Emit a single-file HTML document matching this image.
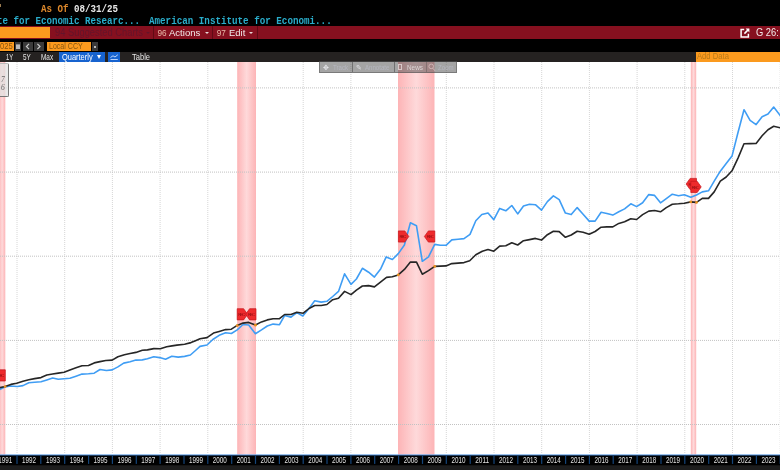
<!DOCTYPE html>
<html><head><meta charset="utf-8">
<style>
html,body{margin:0;padding:0;background:#000;}
body{width:780px;height:470px;overflow:hidden;position:relative;font-family:"Liberation Sans",sans-serif;}
.abs{position:absolute;white-space:nowrap;}
.t{position:absolute;white-space:nowrap;transform-origin:0 50%;}
.mono{font-family:"Liberation Mono",monospace;font-weight:bold;}
#wrap{position:absolute;left:-20px;top:-20px;width:820px;height:510px;background:#000;filter:blur(0.45px);}
#in{position:absolute;left:20px;top:20px;width:780px;height:470px;}
</style></head><body><div id="wrap"><div id="in">
<!-- row1 -->
<div class="t mono" style="left:41px;top:1.8px;font-size:11.8px;line-height:14px;color:#e08a2c;transform:scaleX(0.777);">As Of <span style="color:#e6e6e6">08/31/25</span></div>
<div class="abs" style="left:0;top:4px;width:1px;height:3px;background:#9a7a50;"></div>
<!-- row2 -->
<div class="t mono" style="left:-3px;top:14.3px;font-size:11.8px;line-height:14px;color:#2aaecc;white-space:pre;transform:scaleX(0.777);">te for Economic Researc...</div>
<div class="t mono" style="left:149px;top:14.3px;font-size:11.8px;line-height:14px;color:#2aaecc;white-space:pre;transform:scaleX(0.782);">American Institute for Economi...</div>
<!-- row3 red bar -->
<div class="abs" style="left:0;top:26px;width:780px;height:13px;background:#86101f;"></div>
<div class="abs" style="left:0;top:27.4px;width:50px;height:10.9px;background:#fb9a1e;"></div>
<div class="abs" style="left:50px;top:26px;width:103px;height:13px;background:#86101f;"></div>
<div class="abs" style="left:153px;top:26px;width:1px;height:13px;background:#600a14;"></div>
<div class="t" style="left:54.6px;top:25.5px;font-size:10px;line-height:13px;color:#64142a;transform:scaleX(0.935);">94 Suggested Charts</div>
<div class="abs" style="left:146px;top:31.5px;width:0;height:0;border-left:2px solid transparent;border-right:2px solid transparent;border-top:2.5px solid #64142a;"></div>
<div class="t" style="left:157.5px;top:26.5px;font-size:8.2px;line-height:13px;color:#e9b9a8;">96</div>
<div class="t" style="left:169.3px;top:26px;font-size:9.9px;line-height:13px;color:#f3ebeb;transform:scaleX(0.965);">Actions</div>
<div class="abs" style="left:204.7px;top:31.5px;width:0;height:0;border-left:2px solid transparent;border-right:2px solid transparent;border-top:2.5px solid #e8d8d8;"></div>
<div class="abs" style="left:212.3px;top:26px;width:1px;height:13px;background:#600a14;"></div>
<div class="t" style="left:216.7px;top:26.5px;font-size:8.2px;line-height:13px;color:#e9b9a8;">97</div>
<div class="t" style="left:228.5px;top:26px;font-size:9.9px;line-height:13px;color:#f3ebeb;transform:scaleX(0.955);">Edit</div>
<div class="abs" style="left:249.2px;top:31.5px;width:0;height:0;border-left:2px solid transparent;border-right:2px solid transparent;border-top:2.5px solid #e8d8d8;"></div>
<div class="abs" style="left:257px;top:26px;width:1px;height:13px;background:#600a14;"></div>
<div class="t" style="left:756.3px;top:26px;font-size:10.3px;line-height:13px;color:#f3ebeb;transform:scaleX(0.908);">G 26:</div>
<svg class="abs" style="left:739.5px;top:27.5px" width="10" height="10" viewBox="0 0 10 10"><path d="M4.2 1.6H1.1v7.3h7.3V5.8" fill="none" stroke="#fff" stroke-width="1.5"/><path d="M4.4 5.6L8.6 1.4" fill="none" stroke="#fff" stroke-width="1.5"/><path d="M5.6 0.6H9.4V4.4z" fill="#fff"/></svg>
<!-- row4 -->
<div class="abs" style="left:0;top:42px;width:13.7px;height:9px;background:#fb9a1e;"></div>
<div class="t" style="left:-0.5px;top:41px;font-size:8.5px;line-height:11px;color:#87560f;transform:scaleX(0.9);">025</div>
<div class="abs" style="left:14.5px;top:42px;width:6.5px;height:9px;background:#3a3a3a;"></div>
<div class="abs" style="left:15.5px;top:44.5px;width:4.5px;height:4px;background:#bbb;"></div>
<div class="abs" style="left:15.5px;top:43.5px;width:4.5px;height:1.2px;background:#888;"></div>
<div class="abs" style="left:23.3px;top:42px;width:9.4px;height:9px;background:#3a3a3a;"></div>
<div class="abs" style="left:34.2px;top:42px;width:9.4px;height:9px;background:#3a3a3a;"></div>
<svg class="abs" style="left:23.3px;top:42px" width="21" height="9" viewBox="0 0 21 9"><path d="M6 1.8L3.4 4.5L6 7.2" fill="none" stroke="#c8c8c8" stroke-width="1.2"/><path d="M14.4 1.8L17 4.5L14.4 7.2" fill="none" stroke="#c8c8c8" stroke-width="1.2"/></svg>
<div class="abs" style="left:47.2px;top:42px;width:44px;height:9px;background:#fb9a1e;"></div>
<div class="t" style="left:49px;top:41px;font-size:8.5px;line-height:11px;color:#87560f;transform:scaleX(0.83);">Local CCY</div>
<div class="abs" style="left:92px;top:42px;width:6.3px;height:9px;background:#3a3a3a;"></div>
<div class="abs" style="left:94px;top:46px;width:2px;height:2px;background:#bbb;"></div>
<!-- row5 -->
<div class="abs" style="left:0;top:51.6px;width:780px;height:10.4px;background:#252221;"></div>
<div class="t" style="left:5.6px;top:51.5px;font-size:9.2px;line-height:11px;color:#e6e6e6;transform:scaleX(0.64);">1Y</div>
<div class="t" style="left:22.8px;top:51.5px;font-size:9.2px;line-height:11px;color:#e6e6e6;transform:scaleX(0.69);">5Y</div>
<div class="t" style="left:41px;top:51.5px;font-size:9.2px;line-height:11px;color:#e6e6e6;transform:scaleX(0.70);">Max</div>
<div class="abs" style="left:59.2px;top:51.6px;width:45.8px;height:10.2px;background:#1763cf;"></div>
<div class="t" style="left:62px;top:51.5px;font-size:9.2px;line-height:11px;color:#fff;transform:scaleX(0.81);">Quarterly</div>
<div class="abs" style="left:96.5px;top:54.5px;width:0;height:0;border-left:2.6px solid transparent;border-right:2.6px solid transparent;border-top:4.5px solid #fff;"></div>
<div class="abs" style="left:108px;top:51.6px;width:12.3px;height:10.2px;background:#1763cf;"></div>
<svg class="abs" style="left:108px;top:51.6px" width="12.3" height="9.9" viewBox="0 0 12.3 9.9"><path d="M2.5 5.5L5 3.8L7 5L9.8 2.8" fill="none" stroke="#cfe0ff" stroke-width="0.9"/><path d="M2.5 7.5H9.8" stroke="#cfe0ff" stroke-width="0.9"/></svg>
<div class="t" style="left:132px;top:51.5px;font-size:9.2px;line-height:11px;color:#e6e6e6;transform:scaleX(0.82);">Table</div>
<div class="abs" style="left:696px;top:51.6px;width:84px;height:10px;background:#fb9a1e;"></div>
<div class="t" style="left:697.3px;top:51px;font-size:8.8px;line-height:11px;color:#b97a18;transform:scaleX(0.87);">Add Data</div>
<svg class="abs" style="left:0;top:62px" width="780" height="408" viewBox="0 62 780 408">
<defs><linearGradient id="pk" x1="0" x2="1" y1="0" y2="0"><stop offset="0" stop-color="#fdb4b6"/><stop offset="0.5" stop-color="#fed9da"/><stop offset="1" stop-color="#fdb4b6"/></linearGradient></defs>
<rect x="0" y="62" width="780" height="393.3" fill="#fff"/>
<g stroke="#d6d6d6" stroke-width="1" stroke-dasharray="1,1"><line x1="17.0" y1="62" x2="17.0" y2="454"/><line x1="64.7" y1="62" x2="64.7" y2="454"/><line x1="112.4" y1="62" x2="112.4" y2="454"/><line x1="160.1" y1="62" x2="160.1" y2="454"/><line x1="207.8" y1="62" x2="207.8" y2="454"/><line x1="255.5" y1="62" x2="255.5" y2="454"/><line x1="303.2" y1="62" x2="303.2" y2="454"/><line x1="350.9" y1="62" x2="350.9" y2="454"/><line x1="398.6" y1="62" x2="398.6" y2="454"/><line x1="446.3" y1="62" x2="446.3" y2="454"/><line x1="494.0" y1="62" x2="494.0" y2="454"/><line x1="541.7" y1="62" x2="541.7" y2="454"/><line x1="589.4" y1="62" x2="589.4" y2="454"/><line x1="637.1" y1="62" x2="637.1" y2="454"/><line x1="684.8" y1="62" x2="684.8" y2="454"/><line x1="732.5" y1="62" x2="732.5" y2="454"/><line x1="780.2" y1="62" x2="780.2" y2="454"/></g>
<rect x="-1" y="62" width="6.3" height="392.6" fill="url(#pk)"/><rect x="237.2" y="62" width="18.8" height="392.6" fill="url(#pk)"/><rect x="398" y="62" width="36.5" height="392.6" fill="url(#pk)"/><rect x="690.8" y="62" width="5.4" height="392.6" fill="url(#pk)"/>
<g stroke="#c2c2c2" stroke-width="1" stroke-dasharray="1,1"><line x1="0" y1="87.9" x2="780" y2="87.9"/><line x1="0" y1="172.1" x2="780" y2="172.1"/><line x1="0" y1="256.2" x2="780" y2="256.2"/><line x1="0" y1="340.4" x2="780" y2="340.4"/><line x1="0" y1="424.5" x2="780" y2="424.5"/></g>
<polyline points="-1.0,389.8 5.1,386.9 10.3,386.0 17.3,386.5 23.0,385.6 28.8,382.7 34.6,382.2 41.0,381.8 46.8,379.9 52.6,378.0 58.3,379.2 64.1,378.8 69.9,378.3 76.0,376.2 82.0,374.1 88.5,373.7 94.2,373.2 100.0,369.5 106.4,370.5 112.2,369.9 117.9,366.9 123.7,363.1 130.1,361.8 135.9,360.1 142.3,359.9 147.4,358.8 153.8,356.7 159.6,357.6 165.6,359.2 171.8,356.3 178.2,357.1 184.6,356.4 190.4,355.0 195.5,350.5 200.0,346.4 207.0,345.0 212.8,339.5 219.2,335.3 225.6,332.7 231.4,333.5 237.2,329.9 243.0,324.5 248.7,325.0 255.4,333.7 261.5,329.9 267.3,326.0 273.1,324.1 279.5,324.7 284.6,315.5 291.0,317.1 296.8,312.6 302.8,316.0 309.0,308.5 314.7,300.8 321.2,302.1 326.9,301.3 332.7,296.5 338.5,291.4 344.6,273.8 351.0,284.4 356.4,279.0 362.4,268.3 368.6,272.2 374.4,277.1 380.8,268.7 386.2,256.9 392.4,259.5 398.3,253.6 404.4,245.0 410.4,222.8 416.5,225.8 422.3,261.3 428.5,256.9 434.7,244.4 440.3,245.3 446.0,245.3 451.8,239.9 458.0,239.2 464.0,238.6 470.0,234.4 475.8,220.7 481.8,214.5 488.0,213.0 493.8,219.6 499.7,208.4 505.8,210.8 511.8,205.5 517.7,213.9 523.5,206.1 529.5,204.2 535.4,204.7 541.5,210.1 547.4,201.6 553.4,195.8 559.2,199.6 565.4,213.1 571.2,214.6 577.2,207.6 583.1,214.3 589.2,221.1 595.1,221.1 601.1,212.3 606.9,213.5 612.8,215.1 618.8,211.8 624.6,208.9 630.8,203.8 636.6,206.6 642.6,202.8 648.8,194.6 654.6,195.4 660.5,202.8 666.3,198.6 672.3,194.2 678.5,195.8 684.3,194.7 690.8,197.3 696.5,195.0 702.3,191.9 708.5,190.8 714.2,181.2 720.3,171.2 726.2,163.5 732.0,156.1 738.0,132.5 744.0,109.7 750.1,120.3 756.1,124.6 762.1,116.7 768.0,114.1 773.7,107.1 781.0,116.5" fill="none" stroke="#3f9df4" stroke-width="1.6" stroke-linejoin="round"/>
<polyline points="-1.0,387.8 5.1,386.5 10.9,384.4 16.7,383.3 23.0,381.2 28.8,379.8 34.6,378.6 41.0,377.6 46.8,375.0 52.6,374.0 58.3,373.1 64.1,372.2 69.9,369.9 76.0,367.8 82.0,365.8 88.5,365.5 94.2,362.9 100.0,361.6 105.8,360.5 112.2,360.1 117.9,356.7 124.4,354.7 130.1,353.5 135.9,352.4 142.3,350.3 147.4,349.9 153.8,348.6 160.3,348.7 166.7,346.8 172.0,345.9 176.9,345.1 184.6,344.2 191.0,342.6 195.5,340.7 200.0,338.8 207.0,337.6 213.5,333.1 219.2,331.4 225.6,329.6 231.4,329.2 237.2,325.4 243.0,323.1 248.7,322.4 255.4,325.0 261.5,321.9 267.3,319.9 273.1,318.7 279.5,318.6 284.6,314.5 291.0,314.5 296.8,312.3 303.2,313.2 309.0,308.5 314.7,305.5 321.2,305.5 326.9,304.5 332.7,299.7 338.5,298.2 344.6,291.4 351.0,294.6 356.4,290.1 362.4,286.0 368.6,285.6 374.4,286.9 380.8,281.8 386.5,277.4 392.3,276.8 398.3,274.9 404.4,269.4 410.4,262.1 416.5,262.1 422.3,274.2 428.5,270.6 434.7,266.4 440.3,266.1 446.0,265.9 451.8,263.6 458.0,263.1 464.0,262.6 469.7,260.8 475.8,254.8 482.3,251.2 488.0,249.6 493.8,251.2 499.7,246.1 505.8,245.8 511.8,242.7 517.7,245.0 523.5,240.7 529.5,239.6 535.4,238.4 541.5,240.1 547.4,234.7 553.4,231.2 559.2,231.6 565.4,237.3 571.2,235.0 577.2,231.2 583.1,232.3 589.2,234.3 595.1,231.5 601.1,227.2 606.9,226.9 612.8,226.9 618.8,223.4 624.6,221.8 630.8,218.8 636.6,219.5 642.6,214.6 648.8,211.1 654.6,210.5 660.5,211.8 666.3,207.6 672.3,204.2 678.5,203.8 684.3,203.2 690.8,201.9 696.5,202.4 702.3,198.4 708.5,198.4 714.2,191.9 720.3,181.2 726.2,177.0 732.0,170.8 738.0,158.1 744.0,143.7 750.0,143.6 756.1,143.5 762.1,135.8 768.0,129.7 773.7,126.3 781.0,128.0" fill="none" stroke="#262626" stroke-width="1.6" stroke-linejoin="round"/>
<path d="M5.3 369.8H-1.1L-5.1 375.4L-1.1 381.0H5.3Z" fill="#ee2a2c" stroke="#c4161c" stroke-width="0.7"/><text x="-2.7" y="377.0" font-size="4.2" fill="#8a0c10" font-family="Liberation Sans, sans-serif" textLength="7">REC</text><path d="M237.2 308.7H243.6L247.6 314.3L243.6 319.9H237.2Z" fill="#ee2a2c" stroke="#c4161c" stroke-width="0.7"/><text x="238.2" y="315.9" font-size="4.2" fill="#8a0c10" font-family="Liberation Sans, sans-serif" textLength="7">REC</text><path d="M256.0 308.7H249.6L245.6 314.3L249.6 319.9H256.0Z" fill="#ee2a2c" stroke="#c4161c" stroke-width="0.7"/><text x="248.0" y="315.9" font-size="4.2" fill="#8a0c10" font-family="Liberation Sans, sans-serif" textLength="7">REC</text><path d="M398.4 230.9H404.8L408.8 236.5L404.8 242.1H398.4Z" fill="#ee2a2c" stroke="#c4161c" stroke-width="0.7"/><text x="399.4" y="238.1" font-size="4.2" fill="#8a0c10" font-family="Liberation Sans, sans-serif" textLength="7">REC</text><path d="M434.8 230.9H428.4L424.4 236.5L428.4 242.1H434.8Z" fill="#ee2a2c" stroke="#c4161c" stroke-width="0.7"/><text x="426.8" y="238.1" font-size="4.2" fill="#8a0c10" font-family="Liberation Sans, sans-serif" textLength="7">REC</text><path d="M696.5 178.4H690.1L686.1 184.0L690.1 189.6H696.5Z" fill="#ee2a2c" stroke="#c4161c" stroke-width="0.7"/><text x="688.5" y="185.6" font-size="4.2" fill="#8a0c10" font-family="Liberation Sans, sans-serif" textLength="7">REC</text><path d="M690.8 181.3H697.2L701.2 186.9L697.2 192.5H690.8Z" fill="#ee2a2c" stroke="#c4161c" stroke-width="0.7"/><text x="691.8" y="188.5" font-size="4.2" fill="#8a0c10" font-family="Liberation Sans, sans-serif" textLength="7">REC</text><circle cx="5.1" cy="386.6" r="1.4" fill="#e8901c"/><circle cx="237.2" cy="325.6" r="1.4" fill="#e8901c"/><circle cx="255.4" cy="325.2" r="1.4" fill="#e8901c"/><circle cx="398.3" cy="274.9" r="1.4" fill="#e8901c"/><circle cx="434.7" cy="266.4" r="1.4" fill="#e8901c"/><circle cx="690.8" cy="201.9" r="1.4" fill="#e8901c"/><circle cx="696.5" cy="202.4" r="1.4" fill="#e8901c"/>
<rect x="0" y="455.2" width="780" height="11" fill="#000"/>
<rect x="0" y="465.3" width="780" height="6" fill="#1d1d1d"/>
<rect x="0" y="454.5" width="780" height="0.9" fill="#3a86dc"/>
<rect x="16.4" y="455.3" width="1.2" height="8.6" fill="#15457a"/><rect x="40.2" y="455.3" width="1.2" height="8.6" fill="#15457a"/><rect x="64.1" y="455.3" width="1.2" height="8.6" fill="#15457a"/><rect x="88.0" y="455.3" width="1.2" height="8.6" fill="#15457a"/><rect x="111.8" y="455.3" width="1.2" height="8.6" fill="#15457a"/><rect x="135.7" y="455.3" width="1.2" height="8.6" fill="#15457a"/><rect x="159.5" y="455.3" width="1.2" height="8.6" fill="#15457a"/><rect x="183.4" y="455.3" width="1.2" height="8.6" fill="#15457a"/><rect x="207.2" y="455.3" width="1.2" height="8.6" fill="#15457a"/><rect x="231.1" y="455.3" width="1.2" height="8.6" fill="#15457a"/><rect x="254.9" y="455.3" width="1.2" height="8.6" fill="#15457a"/><rect x="278.8" y="455.3" width="1.2" height="8.6" fill="#15457a"/><rect x="302.6" y="455.3" width="1.2" height="8.6" fill="#15457a"/><rect x="326.4" y="455.3" width="1.2" height="8.6" fill="#15457a"/><rect x="350.3" y="455.3" width="1.2" height="8.6" fill="#15457a"/><rect x="374.1" y="455.3" width="1.2" height="8.6" fill="#15457a"/><rect x="398.0" y="455.3" width="1.2" height="8.6" fill="#15457a"/><rect x="421.9" y="455.3" width="1.2" height="8.6" fill="#15457a"/><rect x="445.7" y="455.3" width="1.2" height="8.6" fill="#15457a"/><rect x="469.6" y="455.3" width="1.2" height="8.6" fill="#15457a"/><rect x="493.4" y="455.3" width="1.2" height="8.6" fill="#15457a"/><rect x="517.2" y="455.3" width="1.2" height="8.6" fill="#15457a"/><rect x="541.1" y="455.3" width="1.2" height="8.6" fill="#15457a"/><rect x="565.0" y="455.3" width="1.2" height="8.6" fill="#15457a"/><rect x="588.8" y="455.3" width="1.2" height="8.6" fill="#15457a"/><rect x="612.6" y="455.3" width="1.2" height="8.6" fill="#15457a"/><rect x="636.5" y="455.3" width="1.2" height="8.6" fill="#15457a"/><rect x="660.4" y="455.3" width="1.2" height="8.6" fill="#15457a"/><rect x="684.2" y="455.3" width="1.2" height="8.6" fill="#15457a"/><rect x="708.1" y="455.3" width="1.2" height="8.6" fill="#15457a"/><rect x="731.9" y="455.3" width="1.2" height="8.6" fill="#15457a"/><rect x="755.8" y="455.3" width="1.2" height="8.6" fill="#15457a"/><rect x="779.6" y="455.3" width="1.2" height="8.6" fill="#15457a"/>
<g font-family="Liberation Sans, sans-serif" font-size="8.3" fill="#e0e0e0"><text x="5.2" y="463.1" text-anchor="middle" textLength="14" lengthAdjust="spacingAndGlyphs">1991</text><text x="29.1" y="463.1" text-anchor="middle" textLength="14" lengthAdjust="spacingAndGlyphs">1992</text><text x="52.9" y="463.1" text-anchor="middle" textLength="14" lengthAdjust="spacingAndGlyphs">1993</text><text x="76.8" y="463.1" text-anchor="middle" textLength="14" lengthAdjust="spacingAndGlyphs">1994</text><text x="100.6" y="463.1" text-anchor="middle" textLength="14" lengthAdjust="spacingAndGlyphs">1995</text><text x="124.5" y="463.1" text-anchor="middle" textLength="14" lengthAdjust="spacingAndGlyphs">1996</text><text x="148.3" y="463.1" text-anchor="middle" textLength="14" lengthAdjust="spacingAndGlyphs">1997</text><text x="172.2" y="463.1" text-anchor="middle" textLength="14" lengthAdjust="spacingAndGlyphs">1998</text><text x="196.0" y="463.1" text-anchor="middle" textLength="14" lengthAdjust="spacingAndGlyphs">1999</text><text x="219.8" y="463.1" text-anchor="middle" textLength="14" lengthAdjust="spacingAndGlyphs">2000</text><text x="243.7" y="463.1" text-anchor="middle" textLength="14" lengthAdjust="spacingAndGlyphs">2001</text><text x="267.6" y="463.1" text-anchor="middle" textLength="14" lengthAdjust="spacingAndGlyphs">2002</text><text x="291.4" y="463.1" text-anchor="middle" textLength="14" lengthAdjust="spacingAndGlyphs">2003</text><text x="315.2" y="463.1" text-anchor="middle" textLength="14" lengthAdjust="spacingAndGlyphs">2004</text><text x="339.1" y="463.1" text-anchor="middle" textLength="14" lengthAdjust="spacingAndGlyphs">2005</text><text x="362.9" y="463.1" text-anchor="middle" textLength="14" lengthAdjust="spacingAndGlyphs">2006</text><text x="386.8" y="463.1" text-anchor="middle" textLength="14" lengthAdjust="spacingAndGlyphs">2007</text><text x="410.7" y="463.1" text-anchor="middle" textLength="14" lengthAdjust="spacingAndGlyphs">2008</text><text x="434.5" y="463.1" text-anchor="middle" textLength="14" lengthAdjust="spacingAndGlyphs">2009</text><text x="458.4" y="463.1" text-anchor="middle" textLength="14" lengthAdjust="spacingAndGlyphs">2010</text><text x="482.2" y="463.1" text-anchor="middle" textLength="14" lengthAdjust="spacingAndGlyphs">2011</text><text x="506.1" y="463.1" text-anchor="middle" textLength="14" lengthAdjust="spacingAndGlyphs">2012</text><text x="529.9" y="463.1" text-anchor="middle" textLength="14" lengthAdjust="spacingAndGlyphs">2013</text><text x="553.8" y="463.1" text-anchor="middle" textLength="14" lengthAdjust="spacingAndGlyphs">2014</text><text x="577.6" y="463.1" text-anchor="middle" textLength="14" lengthAdjust="spacingAndGlyphs">2015</text><text x="601.5" y="463.1" text-anchor="middle" textLength="14" lengthAdjust="spacingAndGlyphs">2016</text><text x="625.3" y="463.1" text-anchor="middle" textLength="14" lengthAdjust="spacingAndGlyphs">2017</text><text x="649.2" y="463.1" text-anchor="middle" textLength="14" lengthAdjust="spacingAndGlyphs">2018</text><text x="673.0" y="463.1" text-anchor="middle" textLength="14" lengthAdjust="spacingAndGlyphs">2019</text><text x="696.9" y="463.1" text-anchor="middle" textLength="14" lengthAdjust="spacingAndGlyphs">2020</text><text x="720.7" y="463.1" text-anchor="middle" textLength="14" lengthAdjust="spacingAndGlyphs">2021</text><text x="744.6" y="463.1" text-anchor="middle" textLength="14" lengthAdjust="spacingAndGlyphs">2022</text><text x="768.4" y="463.1" text-anchor="middle" textLength="14" lengthAdjust="spacingAndGlyphs">2023</text></g>
</svg>
<!-- legend box -->
<div class="abs" style="left:-1px;top:63.4px;width:8.5px;height:32px;background:rgba(225,225,225,0.75);border-right:1px solid #777;border-bottom:1px solid #777;border-top:1px solid #bbb;border-radius:0 2px 2px 0;"></div>
<div class="abs" style="left:1px;top:76px;font-family:'Liberation Serif',serif;font-style:italic;font-size:7.5px;line-height:8px;color:#686868;">7</div>
<div class="abs" style="left:1px;top:84px;font-family:'Liberation Serif',serif;font-style:italic;font-size:7.5px;line-height:8px;color:#686868;">6</div>
<!-- toolbar -->
<div class="abs" style="left:318.6px;top:61px;width:138.4px;height:11.5px;background:rgba(80,80,80,0.52);box-sizing:border-box;border:1px solid rgba(70,70,70,0.45);"></div>
<div class="abs" style="left:351.6px;top:62px;width:1px;height:10px;background:rgba(60,60,60,0.5);"></div>
<div class="abs" style="left:394px;top:62px;width:1px;height:10px;background:rgba(60,60,60,0.5);"></div>
<div class="abs" style="left:426px;top:62px;width:1px;height:10px;background:rgba(60,60,60,0.3);"></div>
<div class="t" style="left:322.5px;top:61.5px;font-size:7px;line-height:11px;color:#e6e6ea;">✥</div>
<div class="t" style="left:332.6px;top:61.5px;font-size:7.2px;line-height:11px;color:#b6b7c0;transform:scaleX(0.85);">Track</div>
<div class="t" style="left:356px;top:61.5px;font-size:7px;line-height:11px;color:#e0e0e4;">✎</div>
<div class="t" style="left:365.4px;top:61.5px;font-size:7.2px;line-height:11px;color:#b6b7c0;transform:scaleX(0.85);">Annotate</div>
<div class="abs" style="left:398px;top:64px;width:4px;height:5.5px;border:0.8px solid #d8c8c8;box-sizing:border-box;"></div>
<div class="t" style="left:407.4px;top:61.5px;font-size:7.5px;line-height:11px;color:#ddd6d6;transform:scaleX(0.85);">News</div>
<svg class="abs" style="left:428px;top:63px" width="8" height="9" viewBox="0 0 8 9"><circle cx="3.2" cy="3.4" r="2.3" fill="none" stroke="#d0b8b8" stroke-width="0.9"/><path d="M4.8 5.2L7 7.8" stroke="#d0b8b8" stroke-width="1"/></svg>
<div class="t" style="left:438.2px;top:61.5px;font-size:7.2px;line-height:11px;color:#b6b7c0;transform:scaleX(0.85);">Zoom</div>
</div></div></body></html>
